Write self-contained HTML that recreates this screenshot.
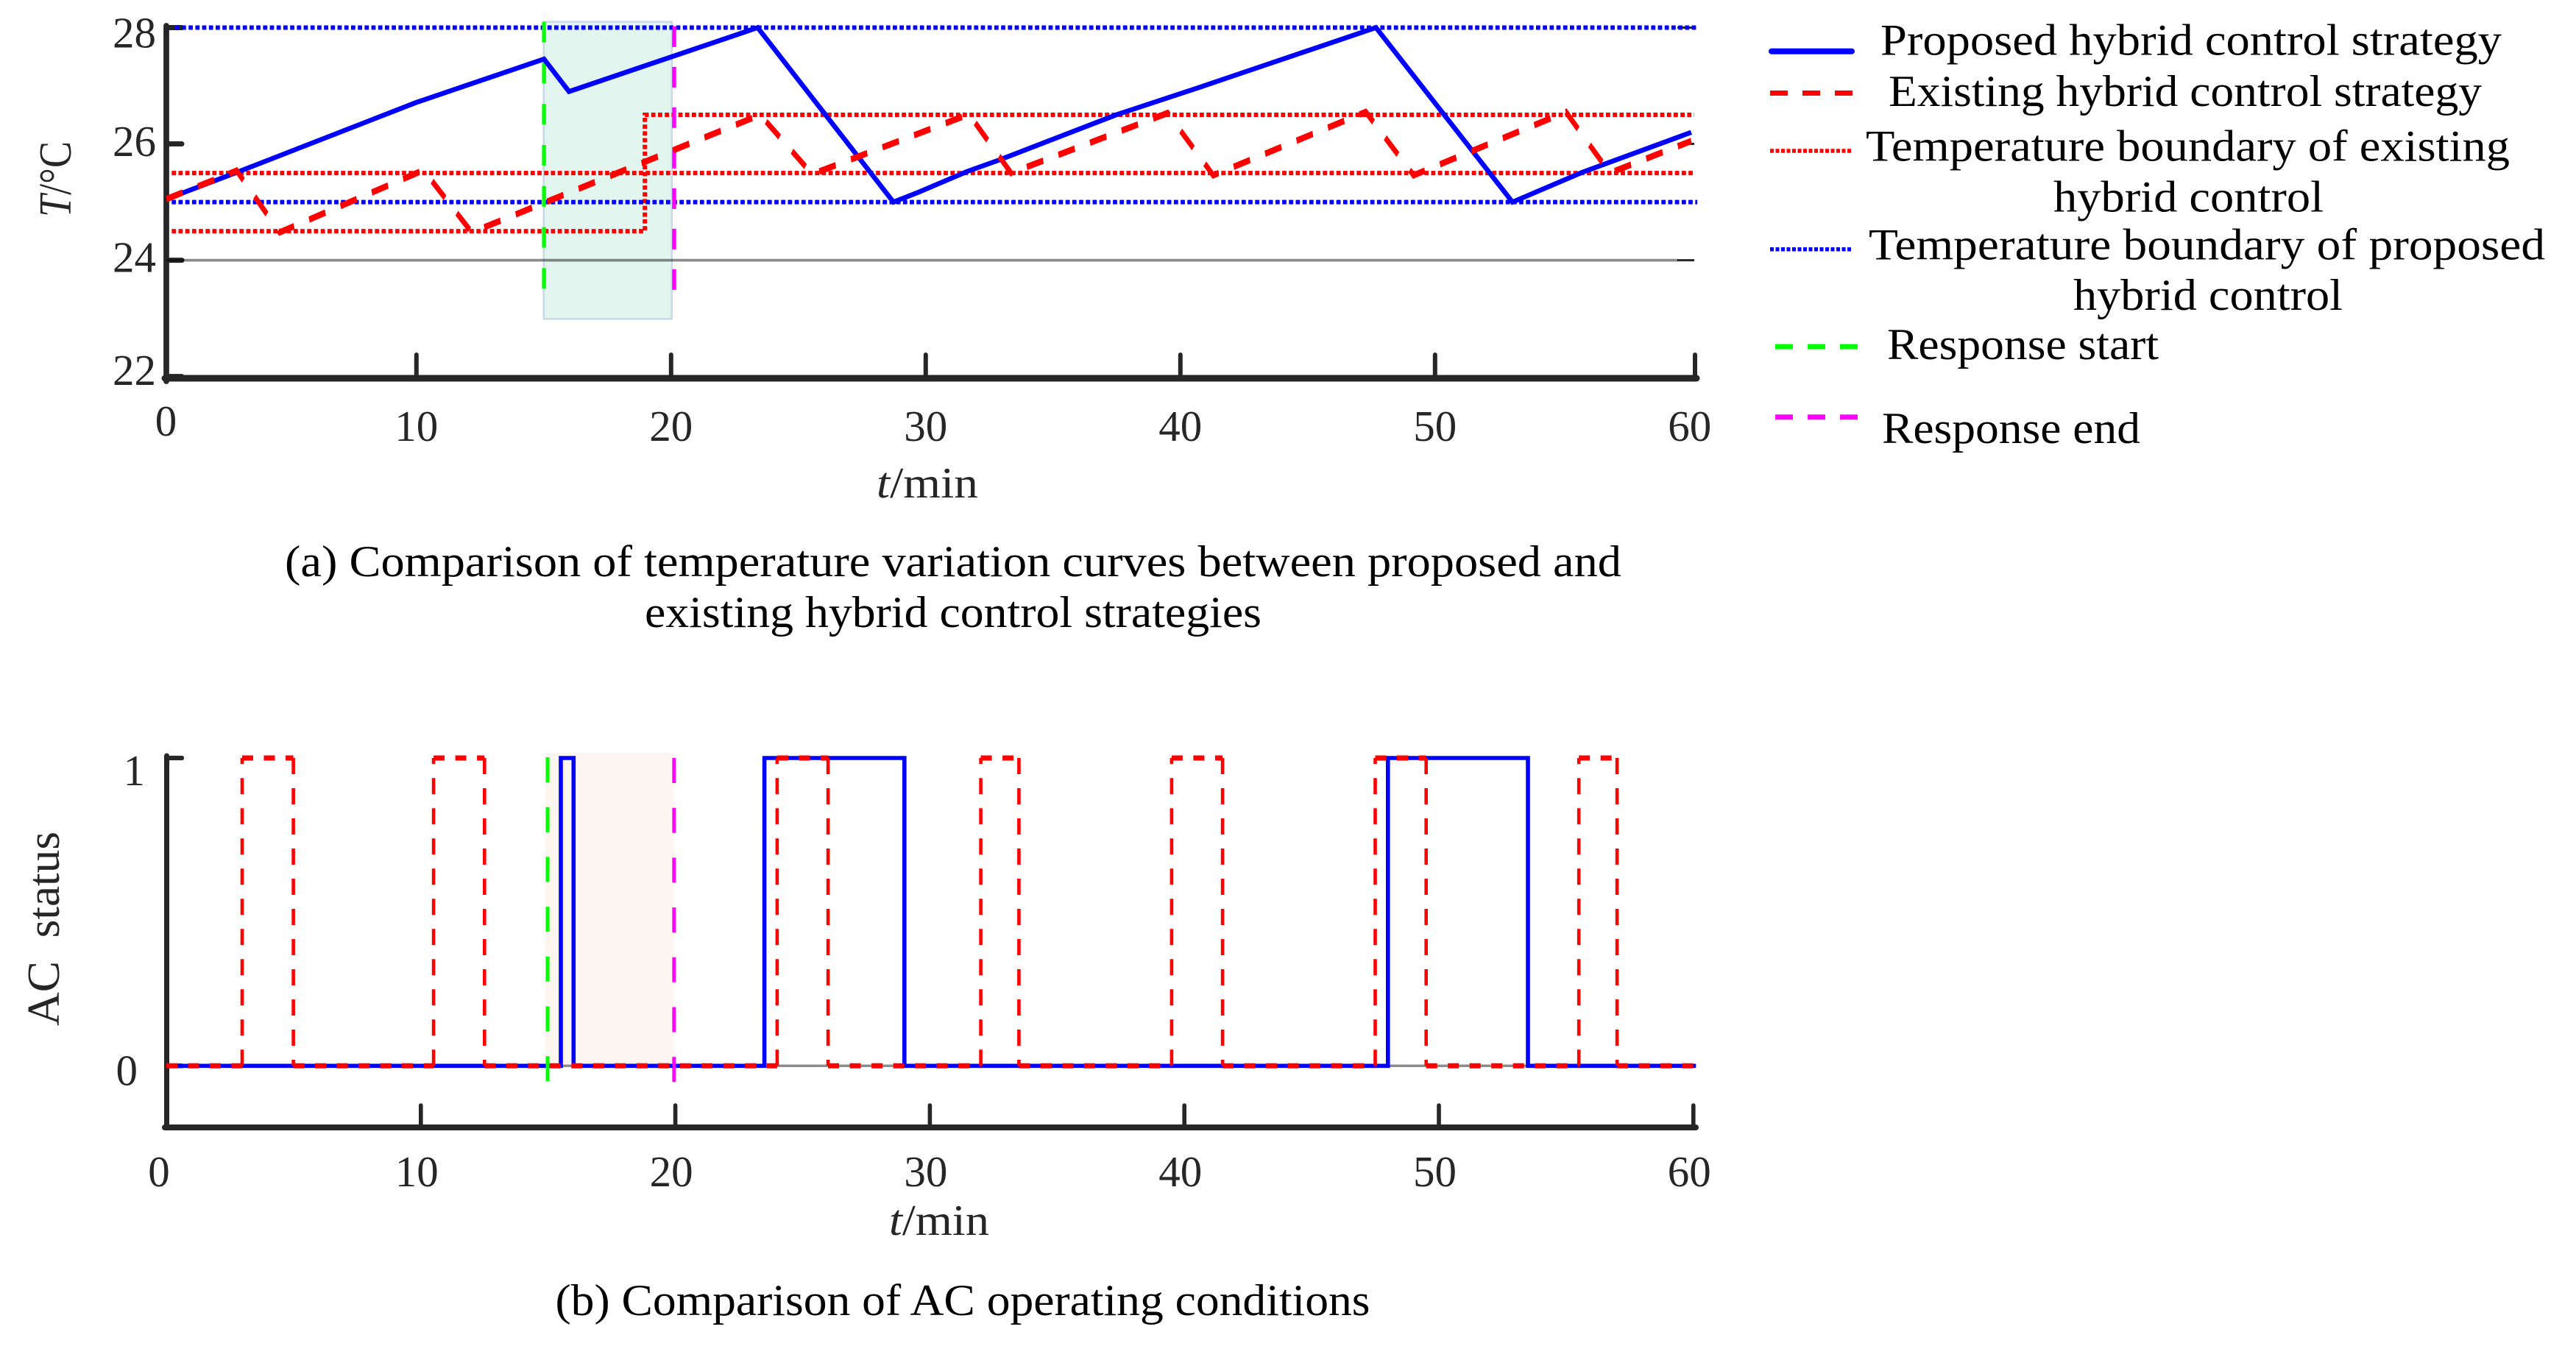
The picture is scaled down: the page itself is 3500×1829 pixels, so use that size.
<!DOCTYPE html>
<html lang="en">
<head>
<meta charset="utf-8">
<title>Comparison of hybrid control strategies</title>
<style>
html,body{margin:0;padding:0;background:#fff;width:3500px;height:1829px;overflow:hidden}
svg{display:block}
text{font-family:"Liberation Serif",serif;fill:#000}
.tick-text{fill:#262626;font-size:59px}
.cap{font-size:60px}
.leg{font-size:60px}
</style>
</head>
<body>
<svg id="figure" xmlns="http://www.w3.org/2000/svg" width="3500" height="1829" viewBox="0 0 3500 1829">
  <g id="chartA"></g>
  <g id="chartB"></g>

  <text class="tick-text" x="1191" y="676" textLength="138" lengthAdjust="spacingAndGlyphs"><tspan font-style="italic">t</tspan>/min</text>
  <text class="tick-text" transform="translate(96,295) rotate(-90)" style="font-size:62px" textLength="103" lengthAdjust="spacingAndGlyphs"><tspan font-style="italic">T</tspan>/°C</text>
  <text class="cap" x="387" y="783" textLength="1816" lengthAdjust="spacingAndGlyphs">(a) Comparison of temperature variation curves between proposed and</text>
  <text class="cap" x="876" y="852" textLength="838" lengthAdjust="spacingAndGlyphs">existing hybrid control strategies</text>

  <text class="tick-text" x="1208" y="1678" textLength="136" lengthAdjust="spacingAndGlyphs"><tspan font-style="italic">t</tspan>/min</text>
  <text class="tick-text" transform="translate(80,1394) rotate(-90)" style="font-size:62px" textLength="264" lengthAdjust="spacingAndGlyphs">AC&#160;&#160;status</text>
  <text class="cap" x="754.5" y="1787" textLength="1107" lengthAdjust="spacingAndGlyphs">(b) Comparison of AC operating conditions</text>

  <g>
    <line x1="2407" x2="2516" y1="69.7" y2="69.7" stroke="#0000ff" stroke-width="8" stroke-linecap="round"/>
    <text class="leg" x="2555" y="74.6" textLength="844" lengthAdjust="spacingAndGlyphs">Proposed hybrid control strategy</text>
    <line x1="2405" x2="2517" y1="126.5" y2="126.5" stroke="#ff0000" stroke-width="7" stroke-dasharray="24 20"/>
    <text class="leg" x="2566" y="143.9" textLength="806" lengthAdjust="spacingAndGlyphs">Existing hybrid control strategy</text>
    <line x1="2405" x2="2517" y1="205" y2="205" stroke="#ff0000" stroke-width="5.5" stroke-dasharray="5 2.5"/>
    <text class="leg" x="2535" y="218.5" textLength="875" lengthAdjust="spacingAndGlyphs">Temperature boundary of existing</text>
    <text class="leg" x="2790" y="287.3" textLength="367" lengthAdjust="spacingAndGlyphs">hybrid control</text>
    <line x1="2405" x2="2517" y1="338.7" y2="338.7" stroke="#0000ff" stroke-width="5.5" stroke-dasharray="5 2.5"/>
    <text class="leg" x="2539" y="352.4" textLength="919" lengthAdjust="spacingAndGlyphs">Temperature boundary of proposed</text>
    <text class="leg" x="2817" y="420.8" textLength="366" lengthAdjust="spacingAndGlyphs">hybrid control</text>
    <line x1="2412" x2="2524" y1="471" y2="471" stroke="#00ff00" stroke-width="7" stroke-dasharray="24 20"/>
    <text class="leg" x="2564" y="488" textLength="369" lengthAdjust="spacingAndGlyphs">Response start</text>
    <line x1="2412" x2="2524" y1="566.7" y2="566.7" stroke="#ff00ff" stroke-width="7" stroke-dasharray="24 20"/>
    <text class="leg" x="2557" y="602" textLength="351" lengthAdjust="spacingAndGlyphs">Response end</text>
  </g>
</svg>
<script>
/* ---------- chart data ---------- */
const xTickValues = [0, 10, 20, 30, 40, 50, 60];
const tempTickValues = [22, 24, 26, 28];
const statusTickValues = [0, 1];

const proposedTime = [0.18, 2.94, 9.98, 15.01, 15.99, 23.4, 28.73, 29.77, 31.65, 32.86, 37.48, 40.66, 47.68, 53.04, 55.77, 60.06];
const proposedTemp = [25.05, 25.51, 26.71, 27.46, 26.9, 28, 25, 25.18, 25.53, 25.72, 26.5, 26.96, 28, 25, 25.51, 26.2];

const existingTime = [0.18, 2.94, 4.63, 10.28, 12.17, 23.5, 25.54, 31.7, 33.35, 39.5, 41.29, 47.28, 49.16, 55.14, 56.86, 60.06];
const existingTemp = [25.05, 25.54, 24.48, 25.55, 24.48, 26.5, 25.48, 26.51, 25.5, 26.53, 25.46, 26.55, 25.46, 26.55, 25.5, 26.05];

const existingBoundaryTime = [0.39, 18.97, 18.97, 60.18];
const existingBoundaryLower = [24.5, 24.5, 26.5, 26.5];
const existingMiddleBoundary = [25.5];
const proposedBoundaryValues = [25, 28];
const referenceTemp = [24];

const responseStart = [15.01];
const responseEnd = [20.12];
const responseBandTime = [15.0, 20.03];
const responseBandTemp = [22.99, 28.1];

const proposedOnTimes = [15.5, 23.5, 48.0];
const proposedOffTimes = [16.0, 29.0, 53.5];
const existingOnTimes = [2.98, 10.5, 24.0, 32.0, 39.5, 47.5, 55.5];
const existingOffTimes = [4.99, 12.5, 26.0, 33.5, 41.5, 49.5, 57.0];
const statusResponseStart = [14.98];
const statusResponseEnd = [19.95];
const statusBandTime = [14.9, 19.95];

/* ---------- helpers ---------- */
const NS = 'http://www.w3.org/2000/svg';
const chartA = document.getElementById('chartA');
const chartB = document.getElementById('chartB');
function mk(tag, attrs, parent) {
  const node = document.createElementNS(NS, tag);
  for (const key in attrs) node.setAttribute(key, attrs[key]);
  parent.appendChild(node);
  return node;
}
function polyPath(xs, ys) {
  return xs.map((x, i) => (i ? 'L' : 'M') + x.toFixed(1) + ' ' + ys[i].toFixed(1)).join(' ');
}

/* ---------- chart A: temperature ---------- */
const xA = t => 219.8 + 34.6 * t;
const yA = v => 37.5 + (28 - v) * 79.03;
const spineLeftA = 226;
const spineRightA = 2303;
const spineBottomA = 514;
const dashStretch = 1.5;
const axisColor = '#262626';

const bandA = mk('rect', {x: xA(responseBandTime[0]), y: yA(responseBandTemp[1]), width: xA(responseBandTime[1]) - xA(responseBandTime[0]), height: yA(responseBandTemp[0]) - yA(responseBandTemp[1]), fill: '#e2f6ef', stroke: '#c8d8ea', 'stroke-width': 2.5}, chartA);



const spineLA = mk('line', {x1: spineLeftA, x2: spineLeftA, y1: 35, y2: 518, stroke: axisColor, 'stroke-width': 7.7, 'stroke-linecap': 'round'}, chartA);


const spineBA = mk('line', {x1: 224, x2: spineRightA + 2, y1: spineBottomA, y2: spineBottomA, stroke: axisColor, 'stroke-width': 9, 'stroke-linecap': 'round'}, chartA);



const tempLabelNudge = {22: 11.5, 24: 16, 26: 16.5, 28: 27};
tempTickValues.forEach(v => {
  const tick = mk('line', {x1: spineLeftA, x2: 247, y1: yA(v), y2: yA(v), stroke: axisColor, 'stroke-width': 7, 'stroke-linecap': 'round'}, chartA);
  
  
  const mirror = mk('line', {x1: 2279, x2: 2302, y1: yA(v), y2: yA(v), stroke: axisColor, 'stroke-width': 3}, chartA);
  
  
  const label = mk('text', {x: 212, y: yA(v) + tempLabelNudge[v], 'text-anchor': 'end', 'class': 'tick-text'}, chartA);
  
  
  label.textContent = String(v);
});

xTickValues.forEach(t => {
  if (t > 0) {
    const tx = t === 60 ? spineRightA : xA(t);
    const tick = mk('line', {x1: tx, x2: tx, y1: 482, y2: spineBottomA, stroke: axisColor, 'stroke-width': 6, 'stroke-linecap': 'round'}, chartA);
    
    
  }
  const label = mk('text', {x: t === 0 ? xA(0) + 5.7 : xA(t), y: t === 0 ? 592 : 599, 'text-anchor': 'middle', 'class': 'tick-text'}, chartA);
  
  
  label.textContent = String(t);
});

referenceTemp.forEach(v => {
  const ref = mk('line', {x1: spineLeftA, x2: 2280, y1: yA(v), y2: yA(v), stroke: '#000', 'stroke-opacity': 0.45, 'stroke-width': 3.7}, chartA);
  
  
});

const dotted = '5.8 3.4';
const lowerBound = mk('path', {d: polyPath(existingBoundaryTime.map(xA), existingBoundaryLower.map(yA)), fill: 'none', stroke: '#ff0000', 'stroke-width': 6, 'stroke-dasharray': dotted}, chartA);



existingMiddleBoundary.forEach(v => {
  const mid = mk('line', {x1: xA(existingBoundaryTime[0]), x2: xA(existingBoundaryTime[3]), y1: yA(v), y2: yA(v), stroke: '#ff0000', 'stroke-width': 6, 'stroke-dasharray': dotted}, chartA);
  
  
});

proposedBoundaryValues.forEach(v => {
  const bound = mk('line', {x1: xA(v === 28 ? 0.52 : 0.39), x2: xA(60.3), y1: yA(v), y2: yA(v), stroke: '#0000ff', 'stroke-width': 6, 'stroke-dasharray': dotted}, chartA);
  
  
});

const startA = mk('line', {x1: xA(responseStart[0]), x2: xA(responseStart[0]), y1: yA(28.1), y2: yA(23.49), stroke: '#00ff00', 'stroke-width': 5.4, 'stroke-dasharray': '28 27.8'}, chartA);



const endA = mk('line', {x1: xA(responseEnd[0]), x2: xA(responseEnd[0]), y1: yA(28.02), y2: yA(23.49), stroke: '#ff00ff', 'stroke-width': 5.4, 'stroke-dasharray': '28 27'}, chartA);



const proposedLine = mk('path', {d: polyPath(proposedTime.map(xA), proposedTemp.map(yA)), fill: 'none', stroke: '#0000ff', 'stroke-width': 6.6, 'stroke-linejoin': 'miter'}, chartA);



const existingLine = mk('path', {d: polyPath(existingTime.map(xA), existingTemp.map(v => yA(v) / dashStretch)), transform: 'scale(1,' + dashStretch + ')', fill: 'none', stroke: '#ff0000', 'stroke-width': 5.8, 'stroke-dasharray': '23 21.3'}, chartA);



/* ---------- chart B: AC status ---------- */
const xB = t => 226 + 34.58 * t;
const yB = s => 1448.3 - s * 418.3;
const spineLeftB = 226.5;
const spineBottomB = 1532;

const bandB = mk('rect', {x: xB(statusBandTime[0]), y: 1023, width: xB(statusBandTime[1]) - xB(statusBandTime[0]), height: yB(0) - 1023, fill: '#fdf6f0'}, chartB);



const spineLB = mk('line', {x1: spineLeftB, x2: spineLeftB, y1: 1027, y2: 1532, stroke: axisColor, 'stroke-width': 7, 'stroke-linecap': 'round'}, chartB);


const spineBB = mk('line', {x1: 224, x2: 2304, y1: spineBottomB, y2: spineBottomB, stroke: axisColor, 'stroke-width': 8, 'stroke-linecap': 'round'}, chartB);



const statusLabelRight = {0: 187, 1: 197};
const statusLabelNudge = {0: 26, 1: 37};
statusTickValues.forEach(s => {
  const tick = mk('line', {x1: spineLeftB, x2: 247, y1: yB(s), y2: yB(s), stroke: axisColor, 'stroke-width': 6.3, 'stroke-linecap': 'round'}, chartB);
  
  
  const label = mk('text', {x: statusLabelRight[s], y: yB(s) + statusLabelNudge[s], 'text-anchor': 'end', 'class': 'tick-text'}, chartB);
  
  
  label.textContent = String(s);
});

xTickValues.forEach(t => {
  if (t > 0) {
    const tick = mk('line', {x1: xB(t), x2: xB(t), y1: 1502, y2: spineBottomB, stroke: axisColor, 'stroke-width': 5.6, 'stroke-linecap': 'round'}, chartB);
    
    
  }
  const label = mk('text', {x: t === 0 ? 216 : xB(t) - 5.5, y: 1612, 'text-anchor': 'middle', 'class': 'tick-text'}, chartB);
  
  
  label.textContent = String(t);
});

const zeroLine = mk('line', {x1: spineLeftB, x2: 2302, y1: yB(0), y2: yB(0), stroke: '#8c8c8c', 'stroke-width': 3.5}, chartB);



const blueXs = [0];
const blueYs = [0];
proposedOnTimes.forEach((on, i) => {
  blueXs.push(on, on, proposedOffTimes[i], proposedOffTimes[i]);
  blueYs.push(0, 1, 1, 0);
});
blueXs.push(60.1);
blueYs.push(0);
const proposedStatus = mk('path', {d: polyPath(blueXs.map(xB), blueYs.map(yB)), fill: 'none', stroke: '#0000ff', 'stroke-width': 5.6}, chartB);



let redVerticals = '';
let redHorizontals = '';
let redCursor = 0;
existingOnTimes.forEach((on, i) => {
  const off = existingOffTimes[i];
  redVerticals += polyPath([xB(on), xB(on)], [yB(0), yB(1)]) + ' ' + polyPath([xB(off), xB(off)], [yB(1), yB(0)]) + ' ';
  redHorizontals += polyPath([xB(redCursor), xB(on)], [yB(0), yB(0)]) + ' ' + polyPath([xB(on), xB(off)], [yB(1), yB(1)]) + ' ';
  redCursor = off;
});
redHorizontals += polyPath([xB(redCursor), xB(60.1)], [yB(0), yB(0)]);

const existingStatusH = mk('path', {d: redHorizontals, fill: 'none', stroke: '#ff0000', 'stroke-width': 7, 'stroke-dasharray': '15 14.5'}, chartB);


const existingStatusV = mk('path', {d: redVerticals, fill: 'none', stroke: '#ff0000', 'stroke-width': 4.6, 'stroke-dasharray': '22 19'}, chartB);



const startB = mk('line', {x1: xB(statusResponseStart[0]), x2: xB(statusResponseStart[0]), y1: 1029, y2: 1475, stroke: '#00ff00', 'stroke-width': 5, 'stroke-dasharray': '34 33.7'}, chartB);


const endB = mk('line', {x1: xB(statusResponseEnd[0]), x2: xB(statusResponseEnd[0]), y1: 1030, y2: 1475, stroke: '#ff00ff', 'stroke-width': 5, 'stroke-dasharray': '34 33.7'}, chartB);


</script>
</body>
</html>
